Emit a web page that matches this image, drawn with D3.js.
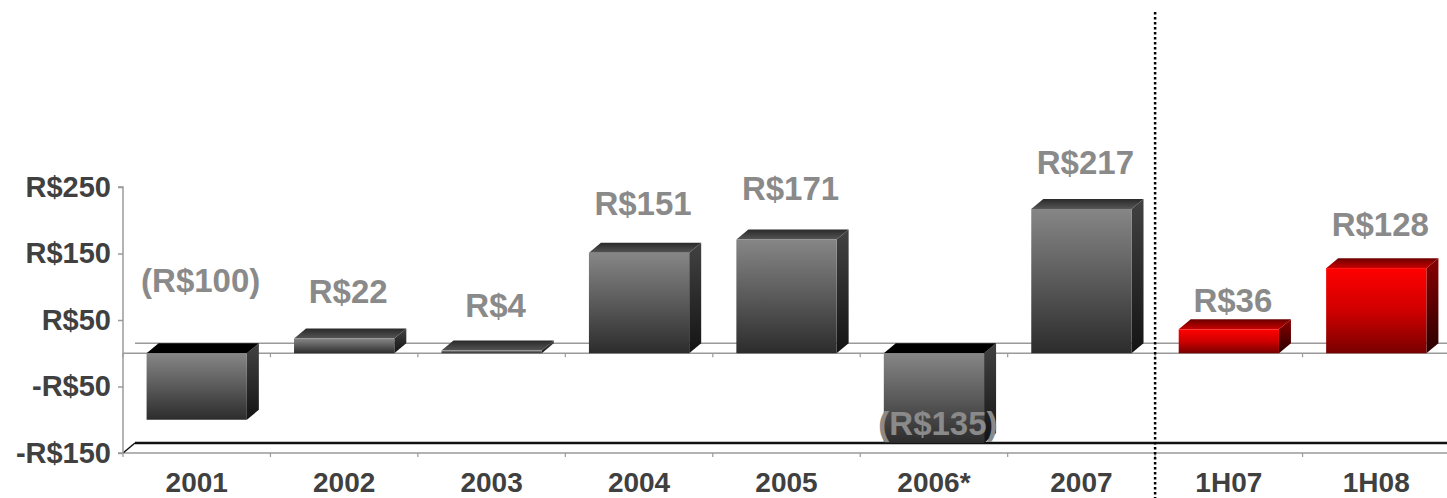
<!DOCTYPE html>
<html>
<head>
<meta charset="utf-8">
<script src="https://cdn.jsdelivr.net/npm/d3@7"></script>
<style>
  html, body { margin: 0; padding: 0; background: #fff; }
  svg { display: block; font-family: "Liberation Sans", Arial, sans-serif; font-weight: bold; }
</style>
</head>
<body>
<div id="chart"></div>
<script>
// data
const categories = ["2001", "2002", "2003", "2004", "2005", "2006*", "2007", "1H07", "1H08"];
const values = [-100, 22, 4, 151, 171, -135, 217, 36, 128];
const labels = ["(R$100)", "R$22", "R$4", "R$151", "R$171", "(R$135)", "R$217", "R$36", "R$128"];
const seriesType = ["year", "year", "year", "year", "year", "year", "year", "half", "half"];
const yTicks = [-150, -50, 50, 150, 250];

// layout: how far each value label sits above the end of its bar (px)
const labelLift = [140, 48, 45, 50, 51, 20, 47, 29, 44];

document.addEventListener("DOMContentLoaded", function () {
    const width = 1447, height = 498;
    const depthX = 12, depthY = 10;

    const svg = d3.select("#chart")
        .append("svg")
        .attr("width", width)
        .attr("height", height);

    const x = d3.scaleBand()
        .domain(categories)
        .range([123, 1450])
        .padding(0);

    const y = d3.scaleLinear()
        .domain([-150, 250])
        .range([453, 187]);

    const barW = x.bandwidth() * 0.68;

    // gradients
    const defs = svg.append("defs");
    function grad(id, stops) {
        const g = defs.append("linearGradient").attr("id", id)
            .attr("x1", 0).attr("y1", 0).attr("x2", 0).attr("y2", 1);
        stops.forEach((c, i) => g.append("stop")
            .attr("offset", i / (stops.length - 1)).attr("stop-color", c));
    }
    grad("grayFront", ["#868686", "#5a5a5a", "#2c2c2c"]);
    grad("graySide", ["#424242", "#141414"]);
    grad("grayTop", ["#2a2a2a", "#555555"]);
    grad("redFront", ["#ff0000", "#d00000", "#780000"]);
    grad("redSide", ["#8a0000", "#2a0000"]);
    grad("redTop", ["#6a0000", "#c80000"]);

    const x0 = x.range()[0];
    const xEnd = width;

    // floor at the bottom of the axis
    svg.append("line")
        .attr("x1", x0).attr("x2", xEnd)
        .attr("y1", y(-150)).attr("y2", y(-150))
        .attr("stroke", "#9a9a9a").attr("stroke-width", 1.5);
    svg.append("line")
        .attr("x1", x0 + depthX).attr("x2", xEnd)
        .attr("y1", y(-150) - depthY).attr("y2", y(-150) - depthY)
        .attr("stroke", "#111").attr("stroke-width", 2.5);
    svg.append("line")
        .attr("x1", x0).attr("x2", x0 + depthX)
        .attr("y1", y(-150)).attr("y2", y(-150) - depthY)
        .attr("stroke", "#111").attr("stroke-width", 1.5);

    // zero plane
    svg.append("line")
        .attr("x1", x0 + depthX).attr("x2", xEnd)
        .attr("y1", y(0) - depthY).attr("y2", y(0) - depthY)
        .attr("stroke", "#9a9a9a").attr("stroke-width", 1.5);
    svg.append("line")
        .attr("x1", x0).attr("x2", xEnd)
        .attr("y1", y(0)).attr("y2", y(0))
        .attr("stroke", "#9a9a9a").attr("stroke-width", 1.5);

    // category tick marks on the zero line and the floor
    const bounds = categories.map(c => x(c)).concat([x.range()[1]]);
    [0, -150].forEach(v => {
        svg.selectAll(null)
            .data(bounds)
            .enter()
            .append("line")
            .attr("x1", d => d).attr("x2", d => d)
            .attr("y1", y(v)).attr("y2", y(v) + 4)
            .attr("stroke", "#9a9a9a").attr("stroke-width", 1.2);
    });

    // y axis
    const yAxis = d3.axisLeft(y)
        .tickValues(yTicks)
        .tickSize(5)
        .tickPadding(7)
        .tickFormat(v => (v < 0 ? "-R$" : "R$") + Math.abs(v));
    const ag = svg.append("g")
        .attr("transform", `translate(${x0},0)`)
        .call(yAxis);
    ag.select(".domain").attr("stroke", "#9a9a9a").attr("stroke-width", 1.5)
        .attr("d", `M-5,${y(250)}H0V${y(-150)}H-5`);
    ag.selectAll(".tick line").attr("stroke", "#9a9a9a").attr("stroke-width", 1.5);
    ag.selectAll(".tick text")
        .attr("fill", "#404040")
        .attr("font-size", 29)
        .attr("font-weight", "bold")
        .attr("font-family", "'Liberation Sans', Arial, sans-serif");

    // bars
    const rows = categories.map((c, i) => ({
        cat: c, value: values[i], label: labels[i], type: seriesType[i], lift: labelLift[i]
    }));

    const bars = svg.selectAll("g.bar")
        .data(rows)
        .enter()
        .append("g")
        .attr("class", "bar");

    bars.each(function (d) {
        const g = d3.select(this);
        const left = x(d.cat) + (x.bandwidth() - barW) / 2;
        const right = left + barW;
        const top = y(Math.max(d.value, 0));
        const bottom = y(Math.min(d.value, 0));
        const red = d.type === "half";

        // side face
        g.append("path")
            .attr("d", `M${right},${top}L${right + depthX},${top - depthY}L${right + depthX},${bottom - depthY}L${right},${bottom}Z`)
            .attr("fill", red ? "url(#redSide)" : "url(#graySide)");
        // top face
        g.append("path")
            .attr("d", `M${left},${top}L${left + depthX},${top - depthY}L${right + depthX},${top - depthY}L${right},${top}Z`)
            .attr("fill", d.value < 0 ? "#000" : (red ? "url(#redTop)" : "url(#grayTop)"));
        // front face
        g.append("rect")
            .attr("x", left)
            .attr("y", top)
            .attr("width", barW)
            .attr("height", Math.max(bottom - top, 1.5))
            .attr("fill", red ? "url(#redFront)" : "url(#grayFront)");
    });

    // value labels
    svg.selectAll("text.value")
        .data(rows)
        .enter()
        .append("text")
        .attr("class", "value")
        .attr("x", d => x(d.cat) + x.bandwidth() / 2 + 4)
        .attr("y", d => y(d.value) - d.lift)
        .attr("dy", "0.36em")
        .attr("text-anchor", "middle")
        .attr("font-size", 33)
        .attr("fill", "#8a8a8a")
        .text(d => d.label);

    // category labels
    svg.selectAll("text.cat")
        .data(categories)
        .enter()
        .append("text")
        .attr("class", "cat")
        .attr("x", d => x(d) + x.bandwidth() / 2)
        .attr("y", 492)
        .attr("text-anchor", "middle")
        .attr("font-size", 28)
        .attr("fill", "#404040")
        .text(d => d);

    // dotted separator between full years and half years
    svg.append("line")
        .attr("x1", x("1H07")).attr("x2", x("1H07"))
        .attr("y1", 12).attr("y2", height)
        .attr("stroke", "#000")
        .attr("stroke-width", 2.5)
        .attr("stroke-dasharray", "2.5,2.5");
});
</script>
</body>
</html>
